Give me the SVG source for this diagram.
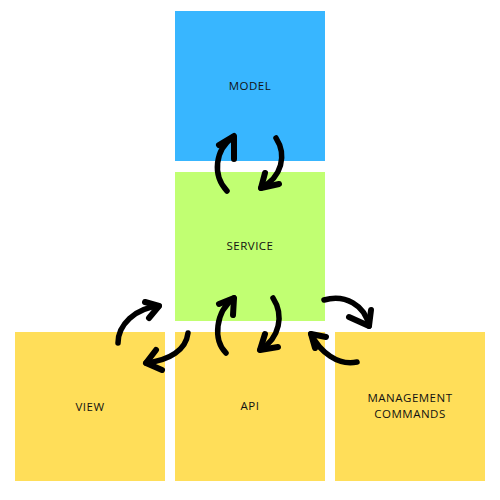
<svg xmlns="http://www.w3.org/2000/svg" width="500" height="500" viewBox="0 0 500 500">
<style>
.lbl{font-family:"Open Sans","Liberation Sans",sans-serif;font-size:11.5px;fill:#111;text-anchor:middle;letter-spacing:0.5px}
.arr{fill:none;stroke:#000;stroke-width:5.5;stroke-linecap:round;stroke-linejoin:round}
.head{fill:none;stroke:#000;stroke-width:6;stroke-linecap:round;stroke-linejoin:round}
</style>
<rect width="500" height="500" fill="#fff"/>
<g id="model"><rect x="175" y="11" width="150" height="150" fill="#38B6FF"/><text class="lbl" x="250" y="90">MODEL</text></g>
<g id="service"><rect x="175" y="172" width="150" height="149" fill="#C1FF72"/><text class="lbl" x="250" y="250">SERVICE</text></g>
<g id="view"><rect x="15" y="332" width="150" height="149" fill="#FFDE59"/><text class="lbl" x="90" y="411">VIEW</text></g>
<g id="api"><rect x="175" y="332" width="150" height="149" fill="#FFDE59"/><text class="lbl" x="250" y="410">API</text></g>
<g id="management"><rect x="335" y="332" width="150" height="149" fill="#FFDE59"/><text class="lbl" x="410" y="402">MANAGEMENT</text><text class="lbl" x="410" y="418">COMMANDS</text></g>
<g id="connectors">
<path class="arr" d="M227,191 C212,175 215,150 233,137"/>
<polyline class="head" points="219,145 234,136 234,159"/>
<path class="arr" d="M276,138 C287,155 282,177 261,188"/>
<polyline class="head" points="265,173 261,188 279,184"/>
<path class="arr" d="M118,343 C118,325 135,308 159,306"/>
<polyline class="head" points="145,302 159,306 149,318"/>
<path class="arr" d="M188,333 C186,350 170,360 146,363"/>
<polyline class="head" points="156,350 146,363 162,370"/>
<path class="arr" d="M226,353 C213,340 215,312 234,298"/>
<polyline class="head" points="219,304 234,298 233,315"/>
<path class="arr" d="M273,298 C284,315 280,338 260,350"/>
<polyline class="head" points="265,334 260,350 278,347"/>
<path class="arr" d="M324,300 C345,294 365,305 369,326"/>
<polyline class="head" points="349,317 369,326 371,310"/>
<path class="arr" d="M357,362 C338,366 320,352 311,334"/>
<polyline class="head" points="315,348 311,334 326,337"/>
</g>
</svg>
